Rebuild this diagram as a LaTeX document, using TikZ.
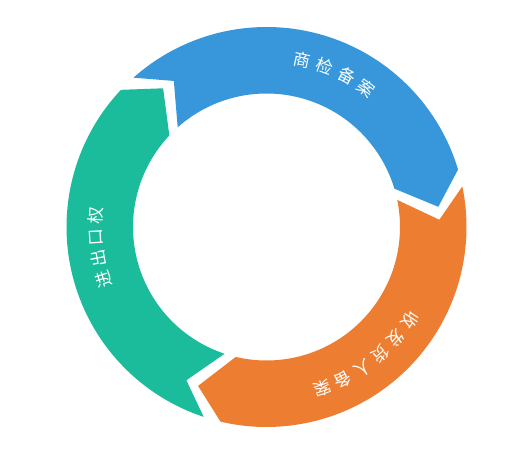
\documentclass[tikz,border=0pt]{standalone}
\usepackage{fontspec}
\newfontfamily\cjk{Noto Sans CJK SC}
\definecolor{segblue}{RGB}{56,151,219}
\definecolor{segorange}{RGB}{237,125,49}
\definecolor{seggreen}{RGB}{27,188,155}
\def\Ro{200}\def\Ri{133.5}\def\Rm{173}
\newcommand\ringseg[3]{%
 \fill[#1] ([shift={(#2:\Ro)}]C) arc[start angle=#2, end angle=#3, radius=\Ro]
   -- ([shift={(#3-10:\Rm)}]C) -- ([shift={(#3:\Ri)}]C)
   arc[start angle=#3, end angle=#2, radius=\Ri]
   -- ([shift={(#2-9.3:\Rm)}]C) -- cycle;}
\newcommand\arclabel[5]{% prefix, center angle, spacing, count, list
 \foreach \ch [count=\i] in {#5} {
   \pgfmathsetmacro\ang{#2+(#4-1)/2*#3-(\i-1)*#3}
   \pgfmathsetmacro\rot{\ang-90}
   \node[lbl, rotate=\rot] (#1\i) at ([shift={(\ang:171)}]C) {\ch};
 }}
\begin{document}
\begin{tikzpicture}[x=1pt,y=1pt,
  lbl/.style={text=white,font=\cjk\fontsize{17}{17}\selectfont,inner sep=0pt}]
\useasboundingbox (0,0) rectangle (507,-462);
\coordinate (C) at (266.5,-227);
\ringseg{segblue}{131.7}{16.7}
\ringseg{segorange}{11.7}{-103.3}
\ringseg{seggreen}{-108.3}{-223.3}
\arclabel{b}{66}{7.9}{4}{商,检,备,案}
\arclabel{o}{-52}{7.6}{6}{收,发,货,人,备,案}
\arclabel{g}{187}{7.3}{4}{进,出,口,权}
\end{tikzpicture}
\end{document}
